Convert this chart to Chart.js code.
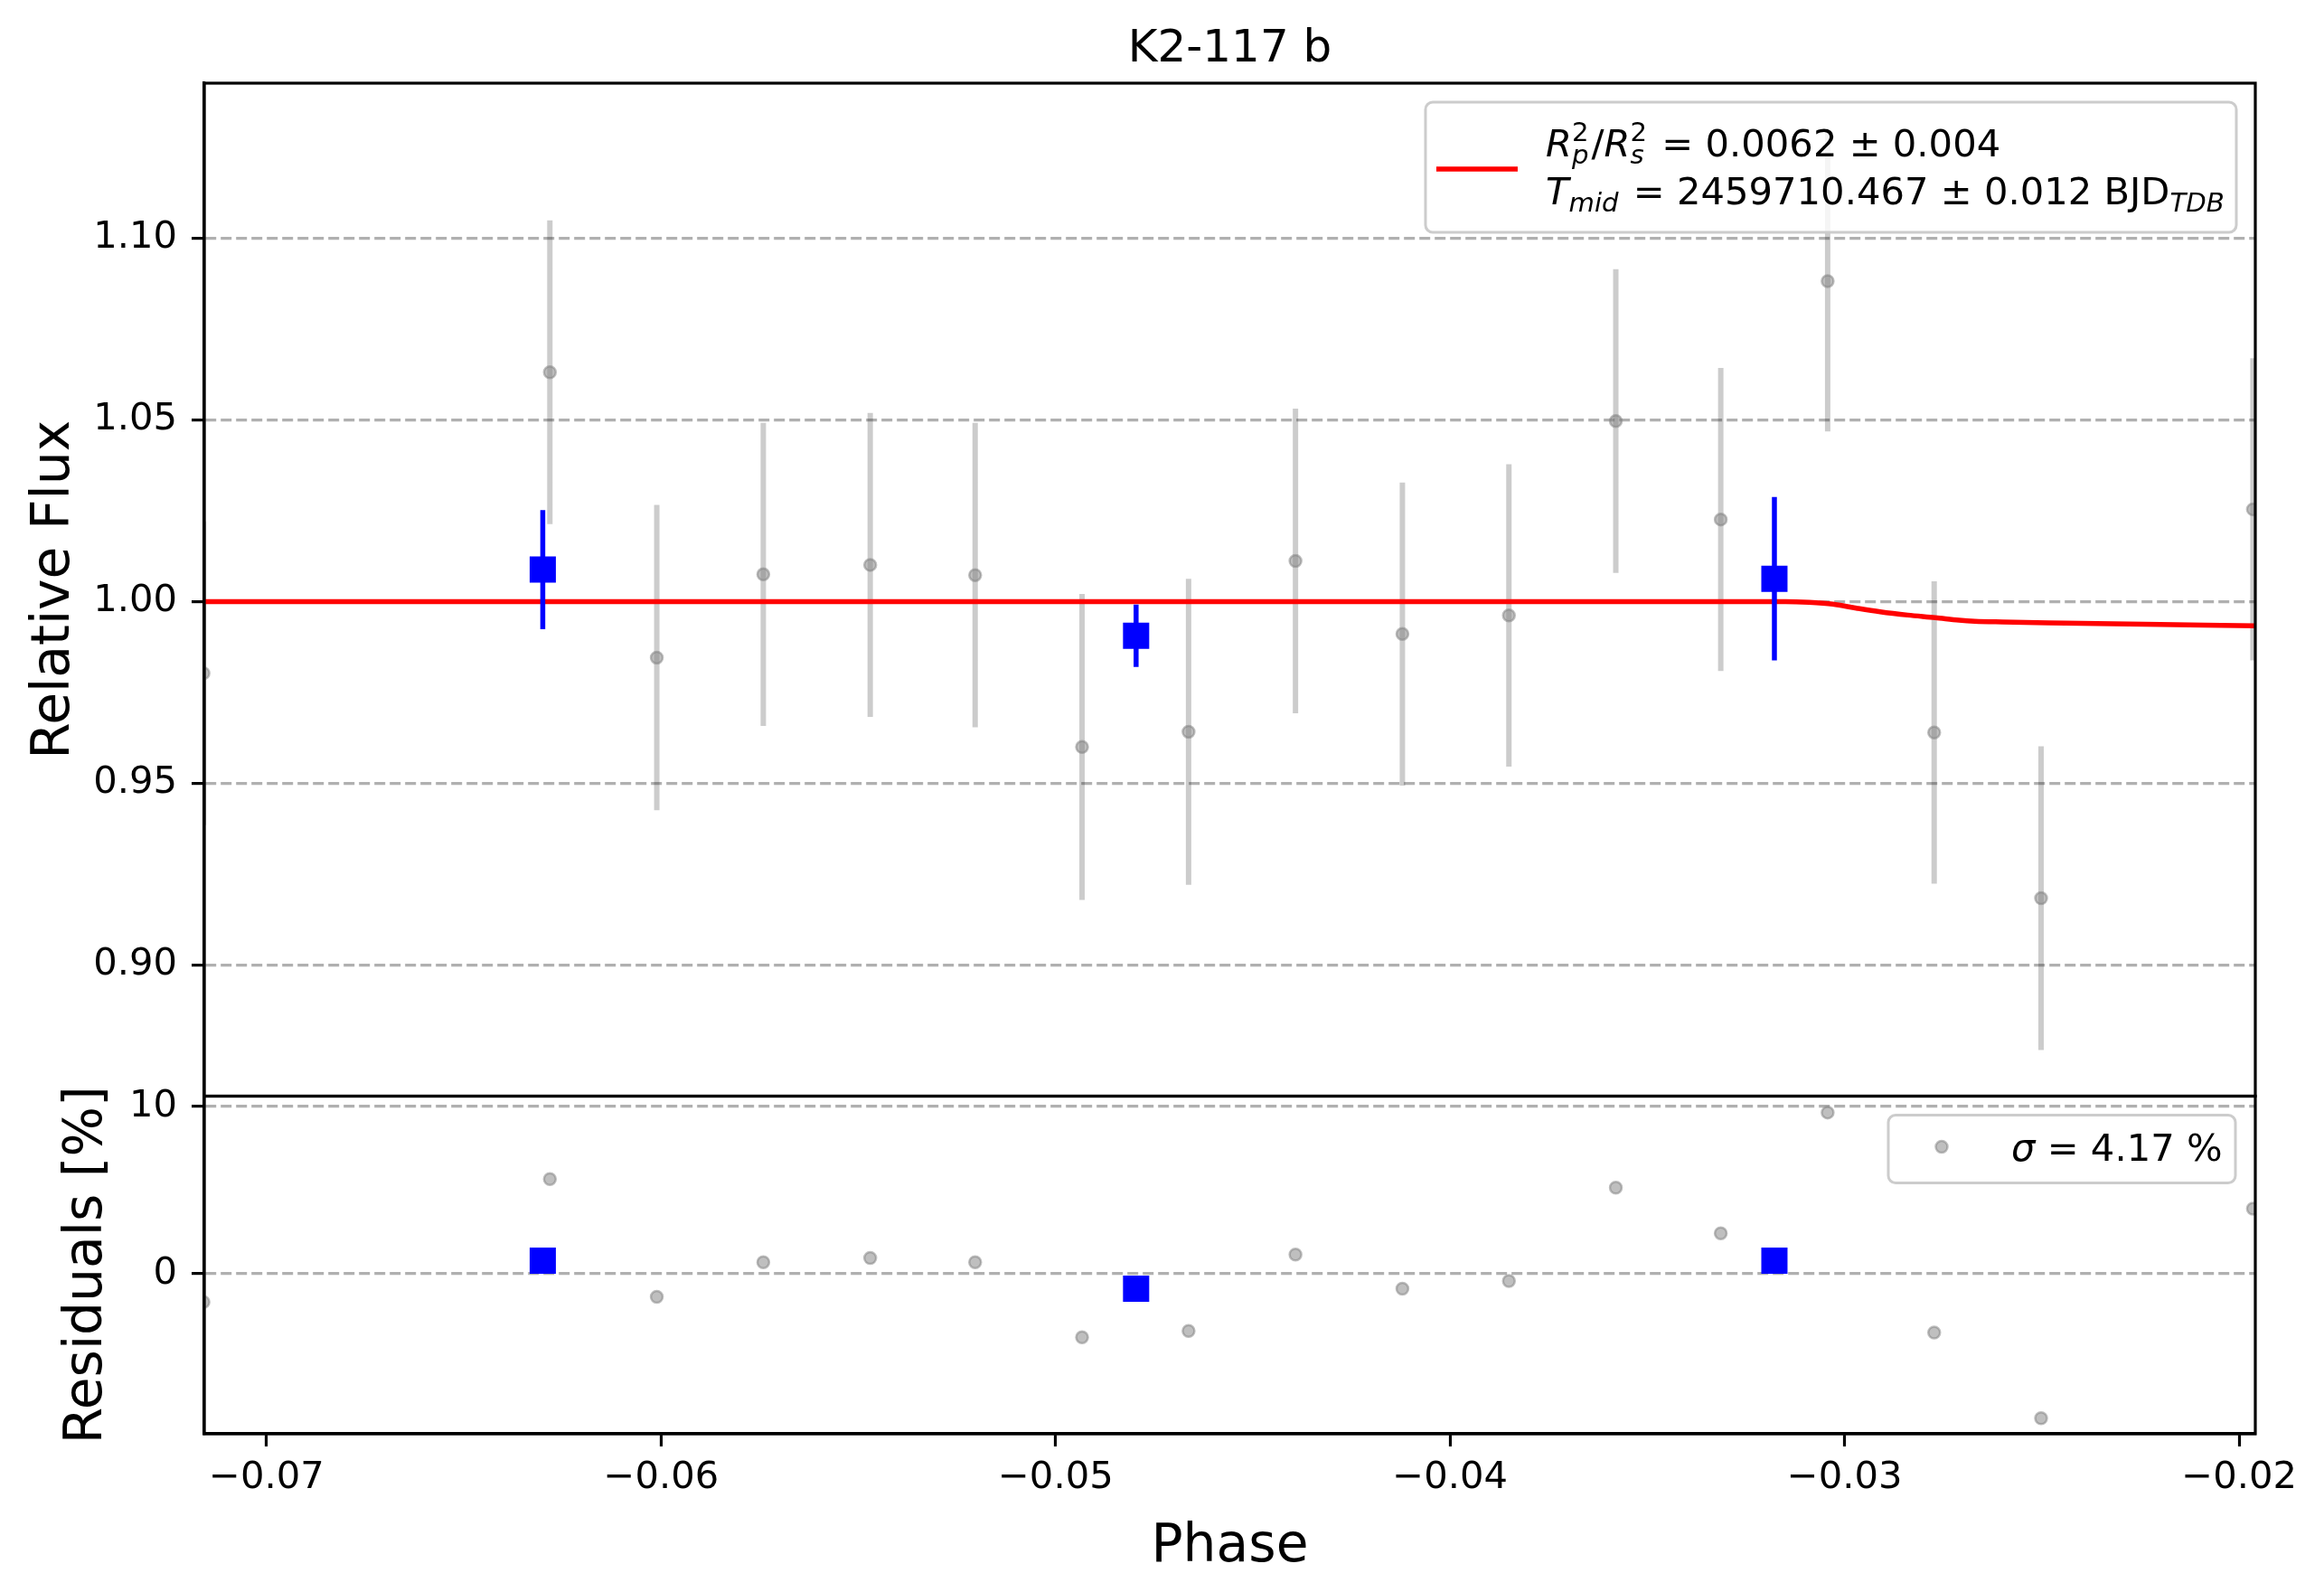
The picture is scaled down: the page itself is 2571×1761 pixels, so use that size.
<!DOCTYPE html>
<html>
<head>
<meta charset="utf-8">
<title>K2-117 b</title>
<script src="https://cdn.jsdelivr.net/npm/chart.js@4.4.1/dist/chart.umd.min.js"></script>
<style>
  html, body { margin: 0; padding: 0; background: #fff; overflow: hidden; }
  canvas { display: block; }
</style>
</head>
<body>
<canvas id="lc" width="2571" height="1761"></canvas>
<script>
// ---- data ----
const phaseTicks = [-0.07, -0.06, -0.05, -0.04, -0.03, -0.02];
const fluxTicks  = [0.90, 0.95, 1.00, 1.05, 1.10];
const residTicks = [0, 10];

// unbinned points (grey)
const dataPhase = [-0.07160, -0.06282, -0.06011, -0.05741, -0.05470, -0.05204, -0.04933, -0.04663, -0.04392,
                   -0.04121, -0.03851, -0.03580, -0.03314, -0.03043, -0.02773, -0.02502, -0.01965];
const dataFlux  = [0.9803, 1.0631, 0.9846, 1.0075, 1.0101, 1.0073, 0.9600, 0.9642, 1.0112,
                   0.9911, 0.9962, 1.0497, 1.0226, 1.0882, 0.9640, 0.9184, 1.0254];
const dataErr   = [0.0418, 0.0418, 0.0420, 0.0417, 0.0418, 0.0419, 0.0421, 0.0421, 0.0419,
                   0.0417, 0.0416, 0.0418, 0.0417, 0.0414, 0.0416, 0.0418, 0.0416];
const dataResid = [-1.69, 5.66, -1.38, 0.69, 0.94, 0.69, -3.80, -3.42, 1.15,
                   -0.89, -0.43, 5.15, 2.42, 9.64, -3.52, -8.64, 3.89];

// binned points (blue)
const binPhase = [-0.06300, -0.04796, -0.03178];
const binFlux  = [1.0088, 0.9906, 1.0063];
const binErr   = [0.0164, 0.0086, 0.0225];
const binResid = [0.78, -0.90, 0.78];

// transit model (red)
const modelPhase = [-0.0716, -0.0315, -0.0309, -0.0303, -0.0297, -0.0291, -0.0284, -0.0277,
                    -0.0271, -0.0267, -0.0260, -0.0244, -0.0220, -0.0195];
const modelFlux  = [1.0, 1.0, 0.9998, 0.9993, 0.9982, 0.9972, 0.9963, 0.9956,
                    0.9949, 0.9946, 0.9944, 0.9941, 0.9937, 0.9933];

const FONT = '"DejaVu Sans", sans-serif';
const FS = 41.7;   // 10 pt

function pairs(xs, ys) {
    return xs.map((x, i) => ({ x: x, y: ys[i] }));
}

function minusFmt(v, digits) {
    const s = Math.abs(v).toFixed(digits);
    return v < 0 ? "\u2212" + s : s;
}

// ---- error bars, drawn just before the points of their dataset ----
const errorBars = {
    id: "errorBars",
    beforeDatasetDraw(chart, args) {
        const ds = chart.data.datasets[args.index];
        if (!ds.errors) return;
        const xs = args.meta.xScale, ys = args.meta.yScale;
        const ctx = chart.ctx;
        ctx.save();
        ctx.beginPath();
        ctx.rect(xs.left, ys.top, xs.right - xs.left, ys.bottom - ys.top);
        ctx.clip();
        ctx.strokeStyle = ds.errColor;
        ctx.lineWidth = ds.errWidth;
        ctx.beginPath();
        ds.data.forEach((p, i) => {
            const px = xs.getPixelForValue(p.x);
            ctx.moveTo(px, ys.getPixelForValue(p.y + ds.errors[i]));
            ctx.lineTo(px, ys.getPixelForValue(p.y - ds.errors[i]));
        });
        ctx.stroke();
        ctx.restore();
    }
};

// mathtext-like runs: italic, superscript, subscript
function drawRuns(ctx, x, y, runs, size) {
    let cx = x, held = 0;
    runs.forEach(r => {
        const fs = r.pos ? size * 0.7 : size;
        ctx.font = (r.it ? "italic " : "") + fs + "px " + FONT;
        const dy = r.pos === "sup" ? -17 : (r.pos === "sub" ? 8 : 0);
        ctx.fillText(r.t, cx, y + dy);
        const w = ctx.measureText(r.t).width;
        if (r.hold) {
            held = w;
        } else {
            cx += Math.max(w, held) + (r.pos ? 3 : 0);
            held = 0;
        }
    });
}

function legendBox(ctx, left, top, w, h) {
    ctx.beginPath();
    ctx.roundRect(left, top, w, h, 8);
    ctx.fillStyle = "rgba(255,255,255,0.8)";
    ctx.fill();
    ctx.strokeStyle = "#cccccc";
    ctx.lineWidth = 3;
    ctx.stroke();
}

// ---- frame, titles, legends ----
const decor = {
    id: "decor",
    afterDraw(chart) {
        const { ctx, chartArea: a, scales } = chart;
        const yf = scales.yFlux, yr = scales.yRes;
        ctx.save();

        // spines
        ctx.strokeStyle = "#000";
        ctx.lineWidth = 3.2;
        ctx.strokeRect(a.left, yf.top, a.right - a.left, yf.bottom - yf.top);
        ctx.strokeRect(a.left, yr.top, a.right - a.left, yr.bottom - yr.top);

        // title + axis labels
        ctx.fillStyle = "#000";
        ctx.textBaseline = "alphabetic";
        ctx.textAlign = "center";
        ctx.font = "50px " + FONT;
        ctx.fillText("K2-117 b", (a.left + a.right) / 2, 68);
        ctx.font = "58.3px " + FONT;
        ctx.fillText("Phase", (a.left + a.right) / 2, 1727);

        ctx.save();
        ctx.translate(76, (yf.top + yf.bottom) / 2);
        ctx.rotate(-Math.PI / 2);
        ctx.fillText("Relative Flux", 0, 0);
        ctx.restore();

        ctx.save();
        ctx.translate(112, (yr.top + yr.bottom) / 2);
        ctx.rotate(-Math.PI / 2);
        ctx.fillText("Residuals [%]", 0, 0);
        ctx.restore();

        // upper legend
        const w1 = 897, h1 = 144;
        const l1 = a.right - 21 - w1, t1 = yf.top + 21;
        legendBox(ctx, l1, t1, w1, h1);
        ctx.strokeStyle = "#ff0000";
        ctx.lineWidth = 5.5;
        ctx.beginPath();
        ctx.moveTo(l1 + 12, t1 + 74);
        ctx.lineTo(l1 + 102, t1 + 74);
        ctx.stroke();
        ctx.fillStyle = "#000";
        ctx.textAlign = "left";
        drawRuns(ctx, l1 + 133, t1 + 60, [
            { t: "R", it: 1 }, { t: "2", pos: "sup", hold: 1 }, { t: "p", it: 1, pos: "sub" },
            { t: "/" },
            { t: "R", it: 1 }, { t: "2", pos: "sup", hold: 1 }, { t: "s", it: 1, pos: "sub" },
            { t: " = 0.0062 \u00b1 0.004" }
        ], FS);
        drawRuns(ctx, l1 + 133, t1 + 113, [
            { t: "T", it: 1 }, { t: "mid", it: 1, pos: "sub" },
            { t: " = 2459710.467 \u00b1 0.012 BJD" },
            { t: "TDB", it: 1, pos: "sub" }
        ], FS);

        // lower legend
        const w2 = 384, h2 = 75;
        const l2 = a.right - 22 - w2, t2 = yr.top + 21;
        legendBox(ctx, l2, t2, w2, h2);
        ctx.beginPath();
        ctx.arc(l2 + 59, t2 + 35, 6.5, 0, Math.PI * 2);
        ctx.fillStyle = "rgba(128,128,128,0.5)";
        ctx.fill();
        ctx.strokeStyle = "rgba(128,128,128,0.5)";
        ctx.lineWidth = 2.5;
        ctx.stroke();
        ctx.fillStyle = "#000";
        drawRuns(ctx, l2 + 136, t2 + 50, [
            { t: "\u03c3", it: 1 }, { t: " = 4.17 %" }
        ], FS);

        ctx.restore();
    }
};

Chart.defaults.font.family = FONT;
Chart.defaults.font.size = FS;
Chart.defaults.color = "#000";

const greyPoint = {
    pointStyle: "circle",
    pointRadius: 6.5,
    pointBackgroundColor: "rgba(128,128,128,0.5)",
    pointBorderColor: "rgba(128,128,128,0.5)",
    pointBorderWidth: 2.5
};
const bluePoint = {
    pointStyle: "rect",
    pointRadius: 20.5,
    pointBackgroundColor: "#0000ff",
    pointBorderWidth: 0
};

new Chart(document.getElementById("lc"), {
    type: "scatter",
    data: {
        datasets: [
            Object.assign({ data: pairs(binPhase, binFlux), yAxisID: "yFlux", clip: 0,
                errors: binErr, errColor: "#0000ff", errWidth: 5.5 }, bluePoint),
            Object.assign({ data: pairs(binPhase, binResid), yAxisID: "yRes", clip: 0 }, bluePoint),
            {
                data: pairs(modelPhase, modelFlux), yAxisID: "yFlux", clip: 0,
                showLine: true, borderColor: "#ff0000", borderWidth: 5.5,
                cubicInterpolationMode: "monotone", pointRadius: 0, fill: false
            },
            Object.assign({ data: pairs(dataPhase, dataFlux), yAxisID: "yFlux", clip: 0,
                errors: dataErr, errColor: "rgba(0,0,0,0.2)", errWidth: 6 }, greyPoint),
            Object.assign({ data: pairs(dataPhase, dataResid), yAxisID: "yRes", clip: 0 }, greyPoint)
        ]
    },
    options: {
        responsive: false,
        devicePixelRatio: 1,
        animation: false,
        events: [],
        layout: { padding: { top: 92, right: 76, bottom: 0, left: 0 } },
        plugins: { legend: { display: false }, tooltip: { enabled: false } },
        scales: {
            x: {
                type: "linear",
                position: "bottom",
                min: -0.07158,
                max: -0.01959,
                afterBuildTicks: s => { s.ticks = phaseTicks.map(v => ({ value: v })); },
                afterFit: s => { s.height = 175; },
                ticks: { padding: 10, callback: v => minusFmt(v, 2), maxRotation: 0 },
                grid: { drawOnChartArea: false, tickLength: 14, tickWidth: 3.2, tickColor: "#000" },
                border: { display: true, color: "#000", width: 3.2 }
            },
            yFlux: {
                type: "linear",
                position: "left",
                stack: "panels",
                stackWeight: 3,
                weight: 1,
                min: 0.86393,
                max: 1.14266,
                afterBuildTicks: s => { s.ticks = fluxTicks.map(v => ({ value: v })); },
                afterFit: s => { s.width = 226; },
                ticks: { padding: 16, callback: v => v.toFixed(2) },
                grid: { color: "#b0b0b0", lineWidth: 3.2, tickLength: 14, tickWidth: 3.2, tickColor: "#000" },
                border: { display: true, color: "#000", width: 3.2, dash: [12, 5] }
            },
            yRes: {
                type: "linear",
                position: "left",
                stack: "panels",
                stackWeight: 1,
                weight: 0,
                min: -9.57,
                max: 10.62,
                afterBuildTicks: s => { s.ticks = residTicks.map(v => ({ value: v })); },
                afterFit: s => { s.width = 226; },
                ticks: { padding: 16, callback: v => String(v) },
                grid: { color: "#b0b0b0", lineWidth: 3.2, tickLength: 14, tickWidth: 3.2, tickColor: "#000" },
                border: { display: true, color: "#000", width: 3.2, dash: [12, 5] }
            }
        }
    },
    plugins: [errorBars, decor]
});
</script>
</body>
</html>
